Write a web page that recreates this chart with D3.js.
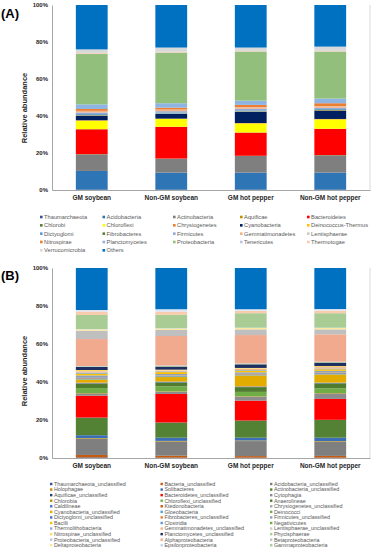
<!DOCTYPE html>
<html>
<head>
<meta charset="utf-8">
<script src="https://cdn.jsdelivr.net/npm/d3@7"></script>
<style>
  html, body { margin: 0; padding: 0; background: #fff; }
  svg { display: block; font-family: "Liberation Sans", Arial, sans-serif; }
</style>
</head>
<body>
<div id="chart"></div>
<script>
const groups = ["GM soybean", "Non-GM soybean", "GM hot pepper", "Non-GM hot pepper"];
const yTicks = [0, 20, 40, 60, 80, 100];

// (A) phylum level
const phylaA = [
  "Thaumarchaeota", "Acidobacteria", "Actinobacteria", "Aquificae", "Bacteroidetes",
  "Chlorobi", "Chloroflexi", "Chrysiogenetes", "Cyanobacteria", "Deinococcus-Thermus",
  "Dictyoglomi", "Fibrobacteres", "Firmicutes", "Gemmatimonadetes", "Lentisphaerae",
  "Nitrospirae", "Planctomycetes", "Proteobacteria", "Tenericutes", "Thermotogae",
  "Verrucomicrobia", "Others"
];
const colorsA = [
  "#2F5597", "#2E75B6", "#7F7F7F", "#BF9000", "#FF0000",
  "#548235", "#FFFF00", "#ED7D31", "#002060", "#FFC000",
  "#5B9BD5", "#548235", "#8FAADC", "#F4B183", "#C9C9C9",
  "#ED7D31", "#8EB4E3", "#93BF7C", "#B4C7E7", "#F8CBAD",
  "#D9D9D9", "#0070C0"
];
const gmSoybeanA    = [0.3, 10.0, 9.0, 0.1, 13.4, 0.1, 4.6, 0.2, 2.5, 0.2, 0.6, 0.1, 0.8, 0.8, 0.1, 1.0, 2.5, 27.2, 0.1, 0.4, 2.0, 24.0];
const nonGmSoybeanA = [0.3, 9.1, 7.5, 0.1, 17.1, 0.1, 4.2, 0.2, 2.5, 0.2, 0.5, 0.1, 0.7, 0.8, 0.1, 1.0, 2.4, 27.3, 0.1, 0.4, 2.3, 23.0];
const gmPepperA     = [0.3, 9.1, 9.0, 0.1, 12.5, 0.1, 4.9, 0.2, 6.1, 0.2, 0.5, 0.1, 0.8, 0.8, 0.1, 1.2, 2.3, 26.5, 0.1, 0.3, 1.8, 23.0];
const nonGmPepperA  = [0.3, 9.1, 9.4, 0.1, 14.1, 0.1, 5.1, 0.2, 4.6, 0.2, 0.5, 0.1, 0.6, 0.9, 0.1, 1.5, 2.5, 25.4, 0.1, 0.3, 2.3, 22.5];

// (B) class level
const classesB = [
  "Thaumarchaeota_unclassified", "Bacteria_unclassified", "Acidobacteria_unclassified",
  "Holophagae", "Solibacteres", "Actinobacteria_unclassified",
  "Aquificae_unclassified", "Bacteroidetes_unclassified", "Cytophagia",
  "Chlorobia", "Chloroflexi_unclassified", "Anaerolineae",
  "Caldilineae", "Ktedonobacteria", "Chrysiogenetes_unclassified",
  "Cyanobacteria_unclassified", "Gloeobacteria", "Deinococci",
  "Dictyoglomi_unclassified", "Fibrobacteres_unclassified", "Firmicutes_unclassified",
  "Bacilli", "Clostridia", "Negativicutes",
  "Thermolithobacteria", "Gemmatimonadetes_unclassified", "Lentisphaerae_unclassified",
  "Nitrospirae_unclassified", "Planctomycetes_unclassified", "Phycisphaerae",
  "Proteobacteria_unclassified", "Alphaproteobacteria", "Betaproteobacteria",
  "Deltaproteobacteria", "Epsilonproteobacteria", "Gammaproteobacteria",
  "Thermotogae", "Verrucomicrobiae", "Others"
];
const colorsB = [
  "#2F5597", "#C55A11", "#7F7F7F",
  "#BF9000", "#3A6FB7", "#548235",
  "#264478", "#FF0000", "#8C8C8C",
  "#BF9000", "#70AD47", "#4F7B2F",
  "#4472C4", "#C55A11", "#A5A5A5",
  "#E2AC00", "#5B9BD5", "#70AD47",
  "#4472C4", "#ED7D31", "#8FA1B8",
  "#FFC000", "#5B9BD5", "#70AD47",
  "#8FAADC", "#F4B183", "#C9C9C9",
  "#FFD966", "#1F2F5F", "#A9D18E",
  "#B4C7E7", "#F1AA8D", "#BFBFBF",
  "#FFE699", "#BDD7EE", "#A8CC93",
  "#F8CBAD", "#DAE3F3", "#0070C0"
];
const gmSoybeanB    = [0.3, 1.3, 8.6, 0.3, 1.5, 9.2, 0.1, 11.5, 1.2, 0.2, 2.6, 2.4, 0.2, 0.2, 0.1, 1.5, 0.2, 0.2, 0.3, 0.3, 1.3, 0.9, 0.3, 0.1, 0.2, 0.6, 0.1, 0.6, 1.6, 0.3, 0.2, 14.2, 4.4, 0.7, 0.2, 7.4, 1.8, 0.8, 22.1];
const nonGmSoybeanB = [0.2, 1.0, 7.5, 0.3, 1.7, 7.9, 0.1, 15.0, 1.2, 0.2, 2.6, 2.1, 0.2, 0.2, 0.1, 2.3, 0.2, 0.2, 0.2, 0.2, 0.8, 1.0, 0.2, 0.1, 0.1, 0.4, 0.1, 0.4, 1.6, 0.3, 0.3, 15.5, 3.2, 0.7, 0.2, 7.1, 1.6, 1.3, 21.7];
const gmPepperB     = [0.2, 0.8, 7.9, 0.3, 1.5, 8.9, 0.1, 10.5, 2.1, 0.2, 2.3, 2.5, 0.2, 0.2, 0.1, 5.6, 0.2, 0.2, 0.2, 0.3, 0.8, 0.8, 0.2, 0.1, 0.1, 0.6, 0.1, 0.4, 1.9, 0.3, 0.2, 14.9, 3.0, 0.7, 0.2, 7.6, 1.3, 0.8, 21.7];
const nonGmPepperB  = [0.2, 0.9, 7.5, 0.3, 1.8, 9.3, 0.1, 11.0, 2.9, 0.2, 2.5, 2.6, 0.2, 0.1, 0.1, 4.3, 0.2, 0.2, 0.3, 0.3, 0.9, 0.8, 0.2, 0.1, 0.1, 0.7, 0.1, 0.5, 1.8, 0.3, 0.2, 14.4, 2.6, 0.7, 0.2, 7.6, 1.4, 0.8, 21.6];
const legendCountB = 36; // the rest of the legend is cut off at the bottom of the figure

const W = 371, H = 550;
const svg = d3.select("#chart").append("svg").attr("width", W).attr("height", H);

function drawPanel(opt) {
  const table = groups.map((g, gi) => {
    const row = { group: g };
    opt.names.forEach((n, i) => { row[n] = opt.values[gi][i]; });
    return row;
  });
  const series = d3.stack().keys(opt.names)(table);

  const x = d3.scaleBand().domain(groups).range([52, 370]).paddingInner(0.6).paddingOuter(0.3);
  const y = d3.scaleLinear().domain([0, 100]).range([opt.bottom, opt.top]);

  const g = svg.append("g");

  g.selectAll("g.layer")
    .data(series)
    .join("g")
    .attr("class", "layer")
    .attr("fill", (d, i) => opt.colors[i])
    .selectAll("rect")
    .data((d) => d)
    .join("rect")
    .attr("x", (d) => x(d.data.group))
    .attr("y", (d) => y(d[1]))
    .attr("width", x.bandwidth())
    .attr("height", (d) => Math.max(0, y(d[0]) - y(d[1])));

  // frame: left axis, bottom axis, right edge
  const yAxis = g.append("g")
    .attr("transform", "translate(52,0)")
    .call(d3.axisLeft(y).tickValues(yTicks).tickFormat((d) => d + "%").tickSize(0).tickPadding(4));
  yAxis.select(".domain").attr("stroke", "#A6A6A6");
  yAxis.selectAll("text")
    .attr("font-size", 6)
    .attr("font-weight", "bold")
    .attr("fill", "#262626")
    .attr("font-family", "Liberation Sans, Arial, sans-serif");

  const xAxis = g.append("g")
    .attr("transform", `translate(0,${opt.bottom})`)
    .call(d3.axisBottom(x).tickSize(0).tickPadding(5).tickSizeOuter(0));
  xAxis.select(".domain").attr("stroke", "#A6A6A6");
  xAxis.selectAll("text")
    .attr("font-size", 6.5)
    .attr("font-weight", "bold")
    .attr("fill", "#262626")
    .attr("font-family", "Liberation Sans, Arial, sans-serif");

  g.append("line")
    .attr("x1", 370).attr("x2", 370)
    .attr("y1", opt.top).attr("y2", opt.bottom)
    .attr("stroke", "#D9D9D9");

  g.append("text")
    .attr("transform", `translate(26.5,${opt.titleY}) rotate(-90)`)
    .attr("text-anchor", "middle")
    .attr("font-size", 7.5)
    .attr("font-weight", "bold")
    .attr("fill", "#262626")
    .text("Relative abundance");

  g.append("text")
    .attr("x", 1)
    .attr("y", opt.labelY)
    .attr("font-size", 13)
    .attr("font-weight", "bold")
    .attr("fill", "#000")
    .text(opt.label);

  // legend, filled row by row
  const leg = g.append("g");
  const items = opt.names.slice(0, opt.legendCount).map((n, i) => ({ name: n, color: opt.colors[i], i }));
  const item = leg.selectAll("g")
    .data(items)
    .join("g")
    .attr("transform", (d) => {
      const col = d.i % opt.legendCols.length;
      const row = Math.floor(d.i / opt.legendCols.length);
      return `translate(${opt.legendCols[col]},${opt.legendTop + row * opt.legendStep})`;
    });
  item.append("rect")
    .attr("x", 0).attr("y", -opt.marker / 2)
    .attr("width", opt.marker).attr("height", opt.marker)
    .attr("fill", (d) => d.color);
  item.append("text")
    .attr("x", opt.marker + 1.5)
    .attr("dy", "0.35em")
    .attr("font-size", opt.legendFont)
    .attr("fill", "#595959")
    .text((d) => d.name);
}

drawPanel({
  names: phylaA,
  colors: colorsA,
  values: [gmSoybeanA, nonGmSoybeanA, gmPepperA, nonGmPepperA],
  top: 5, bottom: 190,
  titleY: 108,
  label: "(A)", labelY: 18,
  legendCols: [40, 102.5, 173, 240, 307],
  legendTop: 217, legendStep: 8.33,
  legendCount: phylaA.length,
  marker: 2.6, legendFont: 5.7
});

drawPanel({
  names: classesB,
  colors: colorsB,
  values: [gmSoybeanB, nonGmSoybeanB, gmPepperB, nonGmPepperB],
  top: 268, bottom: 458,
  titleY: 371,
  label: "(B)", labelY: 280,
  legendCols: [50, 160.5, 270],
  legendTop: 484, legendStep: 5.57,
  legendCount: legendCountB,
  marker: 2.4, legendFont: 5.4
});
</script>
</body>
</html>
